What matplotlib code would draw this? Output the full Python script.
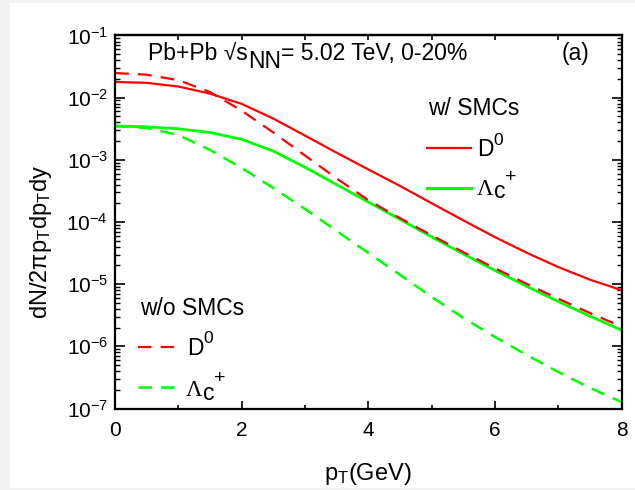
import matplotlib
matplotlib.use("Agg")
import matplotlib.pyplot as plt
from matplotlib.lines import Line2D
from matplotlib.patches import Rectangle
from matplotlib.ticker import LogLocator, MultipleLocator, NullFormatter

plt.rcParams["font.family"] = ["Liberation Sans", "DejaVu Sans"]
plt.rcParams["mathtext.fontset"] = "custom"
plt.rcParams["mathtext.rm"] = "Liberation Sans"
plt.rcParams["mathtext.it"] = "Liberation Sans"
plt.rcParams["mathtext.bf"] = "Liberation Sans:bold"
plt.rcParams["lines.scale_dashes"] = False

RED = "#ff0000"
GREEN = "#00ff00"

# pT grid (GeV) and invariant yields dN/2pi pT dpT dy
PT = [0.0, 0.5, 1.0, 1.5, 2.0, 2.5, 3.0, 3.5, 4.0, 4.5, 5.0, 5.5, 6.0, 6.5, 7.0, 7.5, 8.0]

D0_SMC = [1.79e-2, 1.73e-2, 1.51e-2, 1.16e-2, 7.94e-3, 4.60e-3, 2.45e-3, 1.30e-3, 7.00e-4,
          3.80e-4, 2.00e-4, 1.06e-4, 5.70e-5, 3.20e-5, 1.88e-5, 1.18e-5, 8.0e-6]
LC_SMC = [3.50e-3, 3.40e-3, 3.16e-3, 2.75e-3, 2.14e-3, 1.38e-3, 7.59e-4, 3.98e-4, 2.09e-4,
          1.10e-4, 5.75e-5, 3.05e-5, 1.66e-5, 9.23e-6, 5.25e-6, 3.05e-6, 1.82e-6]
D0_NOSMC = [2.49e-2, 2.34e-2, 1.91e-2, 1.23e-2, 6.17e-3, 2.75e-3, 1.17e-3, 5.01e-4, 2.24e-4,
            1.15e-4, 6.10e-5, 3.27e-5, 1.80e-5, 1.01e-5, 5.82e-6, 3.43e-6, 2.07e-6]
LC_NOSMC = [3.50e-3, 3.25e-3, 2.51e-3, 1.44e-3, 7.40e-4, 3.52e-4, 1.62e-4, 7.16e-5, 3.18e-5,
            1.41e-5, 6.22e-6, 2.86e-6, 1.41e-6, 7.26e-7, 3.86e-7, 2.14e-7, 1.27e-7]

DASH = (10, 6.5)
KEY_DASH = (9.7, 6.6)
TXT = 16.5


def fx(px):
    # pixel column -> axes fraction
    return (px - 115) / 506.7


def fy(py):
    # pixel row -> axes fraction
    return (408.5 - py) / 373


fig = plt.figure(figsize=(6.35, 4.9), dpi=100)
fig.patch.set_facecolor("#f2f2f2")
fig.add_artist(Rectangle((10 / 635, 2 / 490), 625 / 635, 485 / 490, transform=fig.transFigure,
                         facecolor="white", edgecolor="none", zorder=-1))

ax = fig.add_axes([0.1811, 0.1663, 0.7980, 0.7613])

ax.plot(PT, D0_SMC, color=RED, lw=1.6)
ax.plot(PT, LC_SMC, color=GREEN, lw=2.0)
ax.plot(PT, D0_NOSMC, color=RED, lw=1.6, dashes=DASH)
ax.plot(PT, LC_NOSMC, color=GREEN, lw=1.8, dashes=DASH)

ax.set_yscale("log")
ax.set_xlim(0, 8)
ax.set_ylim(1e-7, 1e-1)

ax.xaxis.set_major_locator(MultipleLocator(2))
ax.xaxis.set_minor_locator(MultipleLocator(1))
ax.yaxis.set_major_locator(LogLocator(base=10, numticks=10))
ax.yaxis.set_minor_locator(LogLocator(base=10, subs=range(2, 10), numticks=20))
ax.yaxis.set_minor_formatter(NullFormatter())

for side in ax.spines.values():
    side.set_linewidth(1.6)

ax.tick_params(axis="x", which="major", direction="in", length=6, width=1.2, pad=9,
               labelsize=15, top=False)
ax.tick_params(axis="x", which="minor", direction="in", length=3.2, width=1.2, top=False)
ax.tick_params(axis="y", which="major", direction="in", length=7, width=1.2, pad=5,
               labelsize=15, right=True)
ax.tick_params(axis="y", which="minor", direction="in", length=3.6, width=1.0, right=True)

# top axis carries short ticks at every integer pT
top = ax.secondary_xaxis("top")
top.set_xticks(range(9))
top.tick_params(direction="in", length=3.6, width=1.2, labeltop=False)
top.spines["top"].set_linewidth(1.6)

ax.set_xlabel("p$_\\mathrm{T}$(GeV)", fontsize=17)
ax.xaxis.set_label_coords(0.5, -0.142)
ax.set_ylabel("dN/2πp$_\\mathrm{T}$dp$_\\mathrm{T}$dy", fontsize=17)
ax.yaxis.set_label_coords(-0.12, 0.446)


def put(x, y, s, size=TXT, **kw):
    return ax.text(fx(x), fy(y), s, transform=ax.transAxes, fontsize=size, va="baseline", **kw)


def after(prev, y, s, size=TXT, **kw):
    # next piece starts where the previous one ends, on its own baseline
    return ax.annotate(s, xy=(1, fy(y)), xycoords=(prev, "axes fraction"), fontsize=size,
                       va="baseline", **kw)


def key(x0, x1, y, **kw):
    ax.add_line(Line2D([fx(x0), fx(x1)], [fy(y), fy(y)], transform=ax.transAxes, **kw))


def lambda_c(x, y):
    lam = put(x, y, "Λ", family="Liberation Serif")
    sub = after(lam, y + 3.5, "c")
    after(sub, y - 13, "+", size=14)


# header line
t1 = put(148, 60, "Pb+Pb √s")
t2 = after(t1, 68, "NN")
after(t2, 60, "= 5.02 TeV, 0-20%")
put(575, 60, "(a)", ha="center")

# key with SMCs
put(428, 115.5, "w/ SMCs")
key(427, 471, 148, color=RED, lw=1.6)
after(put(477, 156, "D"), 145, "0", size=12.5)
key(427, 471, 188, color=GREEN, lw=2.3)
lambda_c(477, 195)

# key without SMCs
put(140, 315, "w/o SMCs")
key(138, 175, 347, color=RED, lw=1.6, dashes=KEY_DASH)
after(put(187, 355, "D"), 343, "0", size=12.5)
key(138, 175, 387, color=GREEN, lw=1.8, dashes=KEY_DASH)
lambda_c(186, 396)

fig.savefig("out.png", dpi=100, facecolor=fig.get_facecolor())
